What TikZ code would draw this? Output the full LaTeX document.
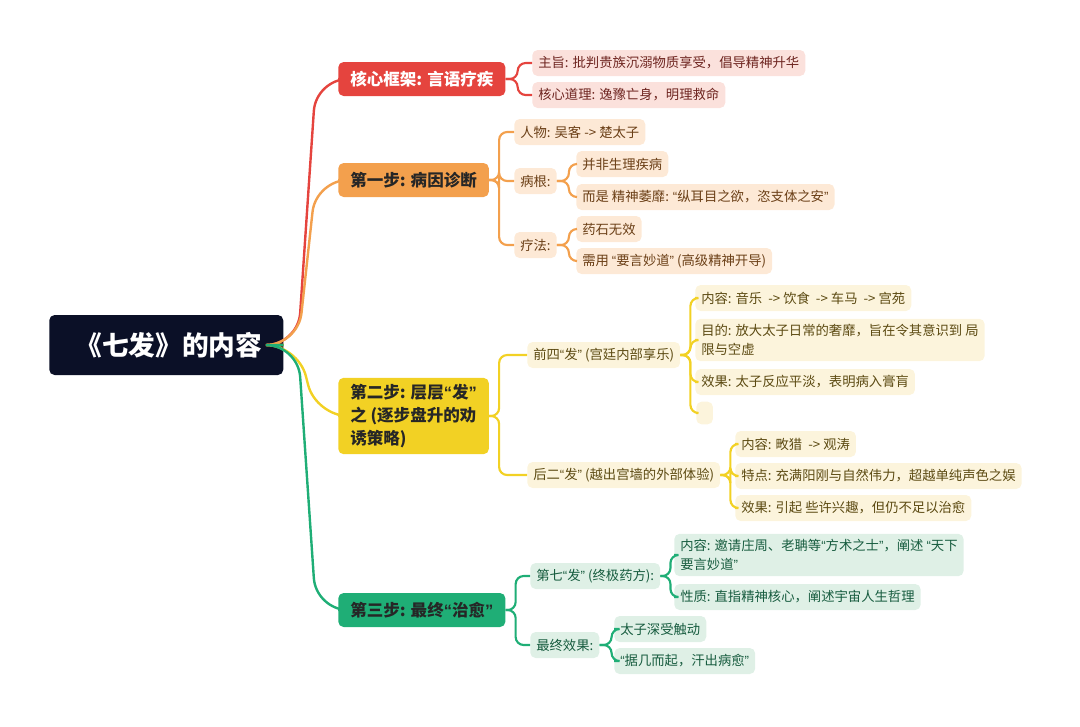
\documentclass[tikz,border=0pt]{standalone}
\usepackage{fontspec}
\setmainfont{Noto Sans CJK SC}
\newfontfamily\latq{Liberation Sans}
\newcommand\oq{{\latq “}}
\newcommand\cq{{\latq ”}}
\definecolor{cR}{HTML}{E5443E}\definecolor{cO}{HTML}{F3A04D}\definecolor{cY}{HTML}{F2D124}\definecolor{cG}{HTML}{1FAE76}
\definecolor{fR}{HTML}{FBE1DC}\definecolor{fO}{HTML}{FDE9D6}\definecolor{fY}{HTML}{FCF4DC}\definecolor{fG}{HTML}{DFF0E6}
\definecolor{tR}{HTML}{6E2520}\definecolor{tO}{HTML}{6B3F17}\definecolor{tY}{HTML}{5C4A12}\definecolor{tG}{HTML}{175C3F}
\definecolor{rootc}{HTML}{0B1027}
\tikzset{
 leaf/.style={rounded corners=4pt,anchor=west,inner xsep=4.5pt,inner ysep=2pt,minimum height=19.5pt,align=left,font=\fontsize{10pt}{14.5pt}\selectfont},
 lone/.style={rounded corners=4pt,anchor=west,inner xsep=9pt,minimum height=25.5pt,align=left,font=\fontsize{12.4pt}{17pt}\selectfont\bfseries},
 lnk/.style={line width=1.6pt,rounded corners=6pt},
 mlnk/.style={line width=1.8pt,rounded corners=24pt}
}
\begin{document}
\begin{tikzpicture}[x=0.75pt,y=-0.75pt]
\useasboundingbox (0,0) rectangle (1080,726);
\node[rounded corners=4pt,anchor=west,fill=rootc,text=white,minimum width=175.5pt,minimum height=45pt,font=\fontsize{20pt}{24pt}\selectfont\bfseries] (root) at (49,345) {\kern4pt《七发》的内容};
% level 1
\node[lone,fill=cR,text=white] (r) at (338,79) {核心框架: 言语疗疾};
\node[lone,fill=cO,text=black!85] (o) at (338,180) {第一步: 病因诊断};
\node[lone,fill=cY,text=black!85,inner ysep=5pt] (y) at (338,416) {第二步: 层层\oq 发\cq\\之 (逐步盘升的劝\\诱策略)};
\node[lone,fill=cG,text=black!85] (g) at (338,610) {第三步: 最终\oq 治愈\cq};
\draw[mlnk,cR] (root.east) -- (298,345) -- (316,79) -- (r.west);
\draw[mlnk,cO] (root.east) -- (298,345) -- (316,180) -- (o.west);
\draw[mlnk,cY] (root.east) -- (298,345) -- (316,416) -- (y.west);
\draw[mlnk,cG] (root.east) -- (298,345) -- (316,610) -- (g.west);
% red
\node[leaf,fill=fR,text=tR] (r1) at (532,63) {主旨: 批判贵族沉溺物质享受，倡导精神升华};
\node[leaf,fill=fR,text=tR] (r2) at (532,95) {核心道理: 逸豫亡身，明理救命};
\foreach \c in {r1,r2} \draw[lnk,cR] (r.east) -- ++(12,0) |- (\c.west);
% orange
\node[leaf,fill=fO,text=tO] (o1) at (514,132) {人物: 吴客 -> 楚太子};
\node[leaf,fill=fO,text=tO] (o2) at (514,181) {病根:};
\node[leaf,fill=fO,text=tO] (o3) at (514,245) {疗法:};
\foreach \c in {o1,o2,o3} \draw[lnk,cO] (o.east) -- ++(10,0) |- (\c.west);
\node[leaf,fill=fO,text=tO] (o21) at (576,164) {并非生理疾病};
\node[leaf,fill=fO,text=tO] (o22) at (576,197) {而是 精神萎靡: \oq 纵耳目之欲，恣支体之安\cq};
\node[leaf,fill=fO,text=tO] (o31) at (576,229) {药石无效};
\node[leaf,fill=fO,text=tO] (o32) at (576,261) {需用 \oq 要言妙道\cq\ (高级精神开导)};
\foreach \c in {o21,o22} \draw[lnk,cO] (o2.east) -- ++(12,0) |- (\c.west);
\foreach \c in {o31,o32} \draw[lnk,cO] (o3.east) -- ++(12,0) |- (\c.west);
% yellow
\node[leaf,fill=fY,text=tY] (y1) at (527,355) {前四\oq 发\cq\ (宫廷内部享乐)};
\node[leaf,fill=fY,text=tY] (y2) at (527,475) {后二\oq 发\cq\ (越出宫墙的外部体验)};
\foreach \c in {y1,y2} \draw[lnk,cY] (y.east) -- ++(10,0) |- (\c.west);
\node[leaf,fill=fY,text=tY] (y11) at (695,298) {内容: 音乐 \ -> 饮食 \ -> 车马 \ -> 宫苑};
\node[leaf,fill=fY,text=tY,inner ysep=4pt] (y12) at (695,340) {目的: 放大太子日常的奢靡，旨在令其意识到 局\\限与空虚};
\node[leaf,fill=fY,text=tY] (y13) at (695,382) {效果: 太子反应平淡，表明病入膏肓};
\node[leaf,fill=fY,minimum height=17pt,minimum width=12.5pt,inner xsep=0pt] (y14) at (696,413) {};
\foreach \c in {y11,y12,y13,y14} \draw[lnk,cY] (y1.east) -- ++(10,0) |- (\c.west);
\node[leaf,fill=fY,text=tY] (y21) at (735,444) {内容: 畋猎 \ -> 观涛};
\node[leaf,fill=fY,text=tY] (y22) at (735,476) {特点: 充满阳刚与自然伟力，超越单纯声色之娱};
\node[leaf,fill=fY,text=tY] (y23) at (735,508) {效果: 引起 些许兴趣，但仍不足以治愈};
\foreach \c in {y21,y22,y23} \draw[lnk,cY] (y2.east) -- ++(10,0) |- (\c.west);
% green
\node[leaf,fill=fG,text=tG] (g1) at (530,576) {第七\oq 发\cq\ (终极药方):};
\node[leaf,fill=fG,text=tG] (g2) at (530,645) {最终效果:};
\foreach \c in {g1,g2} \draw[lnk,cG] (g.east) -- ++(10,0) |- (\c.west);
\node[leaf,fill=fG,text=tG,inner ysep=4pt] (g11) at (674,555) {内容: 邀请庄周、老聃等\oq 方术之士\cq，阐述 \oq 天下\\要言妙道\cq};
\node[leaf,fill=fG,text=tG] (g12) at (674,597) {性质: 直指精神核心，阐述宇宙人生哲理};
\foreach \c in {g11,g12} \draw[lnk,cG] (g1.east) -- ++(10,0) |- (\c.west);
\node[leaf,fill=fG,text=tG] (g21) at (614,629) {太子深受触动};
\node[leaf,fill=fG,text=tG] (g22) at (614,661) {\oq 据几而起，汗出病愈\cq};
\foreach \c in {g21,g22} \draw[lnk,cG] (g2.east) -- ++(12,0) |- (\c.west);
\end{tikzpicture}
\end{document}
